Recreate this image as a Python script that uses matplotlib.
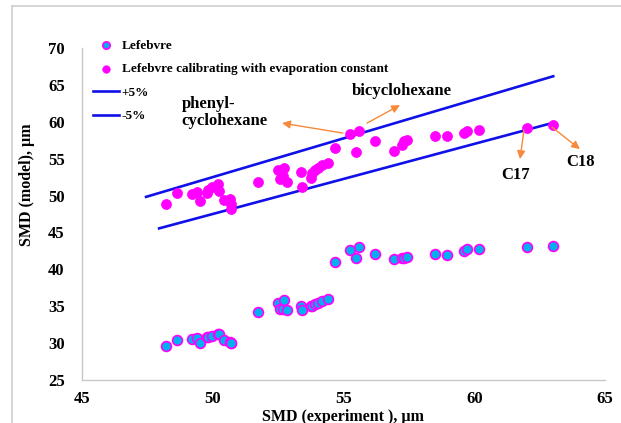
import numpy as np
import matplotlib
matplotlib.use('Agg')
import matplotlib.pyplot as plt
from matplotlib.lines import Line2D

plt.rcParams['font.family'] = 'Liberation Serif'
plt.rcParams['font.weight'] = 'bold'

# measured droplet sizes (experiment) and model predictions, um
smd_exp = [48.20, 48.62, 49.19, 49.40, 49.51, 49.77, 49.83, 49.98, 50.20, 50.22,
           50.44, 50.66, 50.68, 50.70, 51.74, 52.48, 52.57, 52.68, 52.72, 52.83,
           53.39, 53.42, 53.76, 53.78, 53.91, 54.04, 54.18, 54.41, 54.67, 55.24,
           55.48, 55.60, 56.22, 56.93, 57.22, 57.30, 57.44, 58.50, 58.97, 59.62,
           59.73, 60.19, 62.01, 63.02]
smd_lefebvre = [29.6, 30.4, 30.5, 30.7, 30.0, 30.8, 30.8, 31.0, 31.2, 31.2,
                30.4, 30.1, 30.0, 30.05, 34.2, 35.4, 34.6, 34.6, 35.8, 34.5,
                35.0, 34.5, 35.0, 35.0, 35.3, 35.5, 35.7, 36.0, 41.0, 42.6,
                41.6, 43.0, 42.1, 41.4, 41.6, 41.6, 41.7, 42.1, 42.0, 42.5,
                42.7, 42.7, 43.0, 43.2]
smd_calibrated = [48.9, 50.3, 50.2, 50.5, 49.2, 50.4, 50.8, 51.2, 51.5, 50.6,
                  49.4, 49.6, 48.2, 48.9, 51.8, 53.4, 52.2, 52.6, 53.7, 51.9,
                  53.2, 51.2, 52.4, 53.0, 53.5, 53.8, 54.1, 54.4, 56.4, 58.4,
                  55.9, 58.7, 57.4, 56.0, 56.8, 57.4, 57.5, 58.1, 58.1, 58.5,
                  58.7, 58.9, 59.2, 59.5]

# +-5% band
plus_x = [47.45, 63.02]
minus_x = [47.95, 63.02]

xticks = [45, 50, 55, 60, 65]
yticks = [25, 30, 35, 40, 45, 50, 55, 60, 65, 70]

W, H = 621, 423
fig = plt.figure(figsize=(W / 100, H / 100), dpi=100)
fig.patch.set_facecolor('white')

ax = fig.add_axes([82 / W, 43 / H, 523 / W, 332 / H])

blue = '#1010e8'
magenta = '#ff00ff'
cyan = '#00b0f0'
orange = '#f7893a'

ax.plot(plus_x, [v * 1.05 for v in plus_x], color=blue, lw=1.9, label='+5%', zorder=2)
ax.plot(minus_x, [v * 0.95 for v in minus_x], color=blue, lw=1.9, label='-5%', zorder=2)
ax.scatter(smd_exp, smd_lefebvre, s=50, c=cyan, edgecolors=magenta, linewidths=1.2,
           label='Lefebvre', zorder=3)
ax.scatter(smd_exp, smd_calibrated, s=52, c=magenta, edgecolors=magenta, linewidths=0.5,
           label='Lefebvre calibrating with evaporation constant', zorder=3)

ax.set_xlim(45, 65)
ax.set_ylim(25, 70)
ax.set_xticks(xticks)
ax.set_yticks(yticks)
ax.tick_params(axis='both', length=0, labelsize=12)
ax.tick_params(axis='y', pad=12.5)
ax.tick_params(axis='x', pad=8)
for lab in ax.get_xticklabels() + ax.get_yticklabels():
    lab.set_fontweight('bold')

for side in ['top', 'right']:
    ax.spines[side].set_visible(False)
for side in ['left', 'bottom']:
    ax.spines[side].set_color('#c8c8c8')
    ax.spines[side].set_linewidth(1.0)

ax.set_xlabel('SMD (experiment ), \u00b5m', fontsize=11.5, fontweight='bold', labelpad=1)
ax.set_ylabel('SMD (model), \u00b5m', fontsize=11.5, fontweight='bold')
ax.yaxis.set_label_coords(-0.09, 0.587)

# legend: markers first, then band lines
h, l = ax.get_legend_handles_labels()
order = [2, 3, 0, 1]
leg = fig.legend([h[i] for i in order], [l[i] for i in order], loc='upper left',
                 bbox_to_anchor=(86 / W, 1 - 33 / H), frameon=False, fontsize=9.5,
                 handlelength=2.0, handletextpad=0.2, labelspacing=0.85,
                 borderpad=0, markerscale=0.75, scatterpoints=1)
for t in leg.get_texts():
    t.set_fontweight('bold')

arrow = dict(arrowstyle='-|>', color=orange, lw=1.0, mutation_scale=12, shrinkA=0, shrinkB=0)
ax.annotate('', xy=(52.65, 59.82), xytext=(54.98, 58.47), arrowprops=arrow)
ax.annotate('', xy=(57.16, 62.26), xytext=(55.90, 59.82), arrowprops=arrow)
ax.annotate('', xy=(61.75, 54.95), xytext=(61.90, 58.88), arrowprops=arrow)
ax.annotate('', xy=(64.04, 56.30), xytext=(62.97, 59.28), arrowprops=arrow)

ax.text(48.8, 63.5, 'phenyl-\ncyclohexane', fontsize=12, fontweight='bold',
        ha='left', va='top', linespacing=1.05)
ax.text(55.33, 64.2, 'bicyclohexane', fontsize=12, fontweight='bold', ha='left', va='center')
ax.text(61.58, 52.8, 'C17', fontsize=12, fontweight='bold', ha='center', va='center')
ax.text(64.08, 54.6, 'C18', fontsize=12, fontweight='bold', ha='center', va='center')

# thin frame around the figure (left and top edges)
fig.add_artist(Line2D([12 / W, 12 / W], [0, 1 - 6 / H], color='#d0d0d0', lw=1.2,
                      transform=fig.transFigure))
fig.add_artist(Line2D([12 / W, 1], [1 - 6 / H, 1 - 6 / H], color='#d0d0d0', lw=1.2,
                      transform=fig.transFigure))

fig.savefig('out.png', dpi=100)
